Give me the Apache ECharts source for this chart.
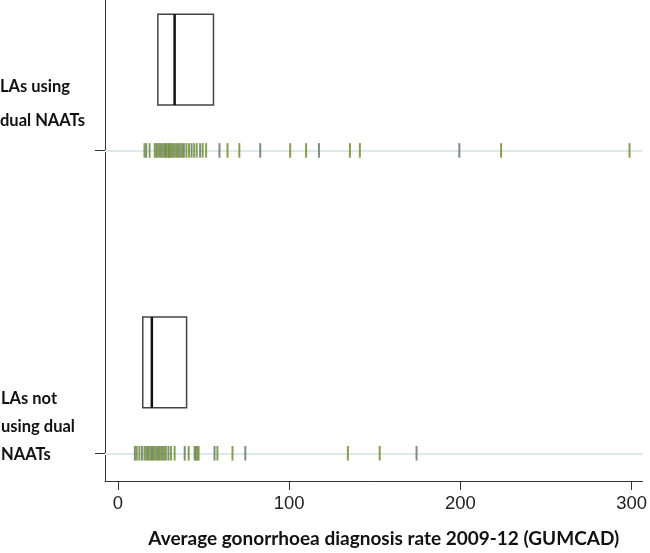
<!DOCTYPE html>
<html>
<head>
<meta charset="utf-8">
<script src="https://cdn.jsdelivr.net/npm/echarts@6/dist/echarts.min.js"></script>
<style>html,body{margin:0;padding:0;background:#fff}#c{width:650px;height:553px}</style>
</head>
<body>
<div id="c"></div>
<script>
// Groups (y positions in value space): 1 = using dual NAATs, 0 = not using
const groupNames = ["LAs using\ndual NAATs", "LAs not\nusing dual\nNAATs"];
const groupPos = [1, 0];
const xTicks = [0, 100, 200, 300];
const xTitle = "Average gonorrhoea diagnosis rate 2009-12 (GUMCAD)";

// Individual LA rates (rug marks)
const usingRates = [15.5, 16.5, 18.5, 21.5, 22.5, 23.5, 24.5, 25.5, 26.5, 27.5, 28, 28.5, 29.5, 30, 30.5, 31.5, 32.5, 33.5, 34.5, 35.5, 36.5, 37.5, 38.5, 40, 41.5, 43, 44.5, 46, 48, 49.5, 51.5,
  59.3, 64, 70.9, 83.1, 100.6, 109.9, 117.4, 135.5, 141.3, 199.4, 223.8, 298.8];
const notUsingRates = [9.9, 11, 12.5, 14, 15.5, 16.5, 17.5, 18.5, 19.5, 20, 21, 22, 23, 24, 25, 26, 27, 28, 29.5, 31, 33.1,
  39, 41.3, 44.8, 45.5, 46.5, 47.1, 56.4, 58.1, 66.9, 74.4, 134.3, 152.9, 174.4];

// Box summaries: [Q1, median, Q3]
const usingBox = [23.3, 33.1, 55.8];
const notUsingBox = [14.5, 19.8, 40.1];

const rugData = usingRates.map(v => [v, groupPos[0]]).concat(notUsingRates.map(v => [v, groupPos[1]]));
const boxData = [usingBox.concat([groupPos[0]]), notUsingBox.concat([groupPos[1]])];

const chart = echarts.init(document.getElementById('c'));
chart.setOption({
  animation: false,
  backgroundColor: '#fff',
  grid: { left: 105, right: 5, top: 0, bottom: 67 },
  xAxis: {
    type: 'value', min: -7.56, max: 306.4,
    splitLine: { show: false },
    axisLine: { show: true, onZero: false, lineStyle: { color: '#333', width: 1 } },
    axisTick: { show: true, length: 9, customValues: xTicks, lineStyle: { color: '#333' } },
    axisLabel: { customValues: xTicks, margin: 13, fontSize: 18.5, color: '#222', fontFamily: 'Liberation Sans, Arial, sans-serif' },
    name: xTitle, nameLocation: 'middle', nameGap: 48,
    nameTextStyle: { fontSize: 19, fontWeight: 'bold', color: '#111', fontFamily: 'Lato, Open Sans, sans-serif', padding: [0, 0, 0, 20] }
  },
  yAxis: {
    type: 'value', min: -0.0915, max: 1.4967,
    splitLine: { show: false },
    axisLine: { show: true, onZero: false, lineStyle: { color: '#333', width: 1 } },
    axisTick: { show: true, length: 10, customValues: groupPos, lineStyle: { color: '#333' } },
    axisLabel: { show: false }
  },
  graphic: [
    { type: 'text', left: 0, top: 70, style: { text: groupNames[0], fontSize: 16.5, fontWeight: 'bold', lineHeight: 34, fill: '#111', fontFamily: 'Lato, Open Sans, sans-serif' } },
    { type: 'text', left: 1, top: 385, style: { text: groupNames[1], fontSize: 16.5, fontWeight: 'bold', lineHeight: 28, fill: '#111', fontFamily: 'Lato, Open Sans, sans-serif' } }
  ],
  series: [
    {
      type: 'line', data: [], silent: true, z: 1,
      markLine: {
        silent: true, symbol: 'none', label: { show: false }, z: 1,
        lineStyle: { color: '#dbe9ea', width: 2, type: 'solid' },
        data: groupPos.map(g => ({ yAxis: g }))
      }
    },
    {
      type: 'custom', silent: true, z: 5,
      data: rugData,
      renderItem: function (params, api) {
        const x = api.value(0), g = api.value(1);
        const a = api.coord([x, g + 0.024]);
        const b = api.coord([x, g - 0.024]);
        const green = (params.dataIndex % 3 !== 1);
        return {
          type: 'line',
          shape: { x1: a[0], y1: a[1], x2: b[0], y2: b[1] },
          style: { stroke: green ? '#7a953c' : '#6c8274', lineWidth: 2, opacity: 0.9 }
        };
      }
    },
    {
      type: 'custom', silent: true, z: 5,
      data: boxData,
      renderItem: function (params, api) {
        const q1 = api.value(0), med = api.value(1), q3 = api.value(2), g = api.value(3);
        const tl = api.coord([q1, g + 0.45]);
        const br = api.coord([q3, g + 0.15]);
        const mt = api.coord([med, g + 0.45]);
        const mb = api.coord([med, g + 0.15]);
        return {
          type: 'group',
          children: [
            { type: 'rect', shape: { x: tl[0], y: tl[1], width: br[0] - tl[0], height: br[1] - tl[1] },
              style: { fill: 'none', stroke: '#444', lineWidth: 1.5 } },
            { type: 'line', shape: { x1: mt[0], y1: mt[1], x2: mb[0], y2: mb[1] },
              style: { stroke: '#111', lineWidth: 2.5 } }
          ]
        };
      }
    }
  ]
});
</script>
</body>
</html>
